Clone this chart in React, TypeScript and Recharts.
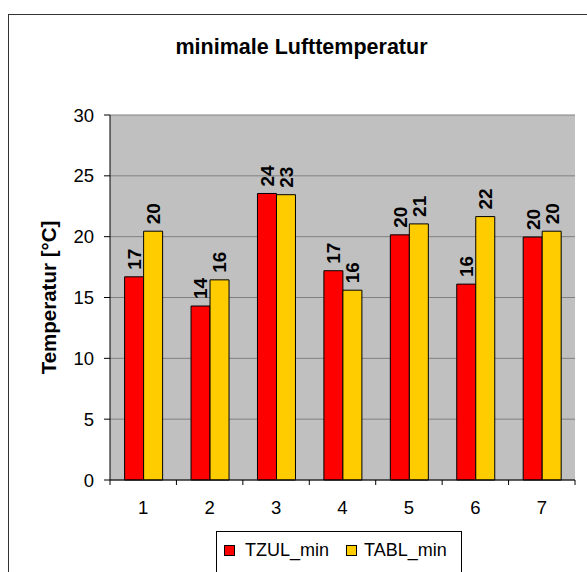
import React from 'react';
import { BarChart, Bar, XAxis, YAxis, CartesianGrid, LabelList } from 'recharts';

const categories = ['1', '2', '3', '4', '5', '6', '7'];
const tzulMin = [16.7, 14.3, 23.55, 17.2, 20.15, 16.1, 19.97];
const tablMin = [20.45, 16.45, 23.45, 15.6, 21.05, 21.65, 20.45];
const seriesNames = ['TZUL_min', 'TABL_min'];
const seriesKeys = ['tzul', 'tabl'];
const seriesColors = ['#FF0000', '#FFCC00'];
const yTicks = [0, 5, 10, 15, 20, 25, 30];
const title = 'minimale Lufttemperatur';
const yLabel = 'Temperatur [°C]';

const data = categories.map((c, i) => ({ cat: c, tzul: tzulMin[i], tabl: tablMin[i] }));

const FONT = '"Liberation Sans", Arial, sans-serif';
const X_TICK_SIZE = 5;
const X_TICK_MARGIN = 16;

const BarLabel = (props: any) => {
  const { x, y, width, value } = props;
  const cx = Number(x) + Number(width) / 2;
  const ty = Number(y) - 7;
  return (
    <text
      x={cx}
      y={ty}
      dy="0.36em"
      transform={`rotate(-90 ${cx} ${ty})`}
      textAnchor="start"
      fontSize={19}
      fontWeight="bold"
      fontFamily={FONT}
      fill="#000"
    >
      {Math.round(Number(value))}
    </text>
  );
};

const XTick = (props: any) => {
  const { x, y, payload, index, visibleTicksCount } = props;
  const half = payload && payload.offset ? payload.offset : 33.2;
  const axisY = y - X_TICK_SIZE - X_TICK_MARGIN;
  const isLast = index === (visibleTicksCount ?? categories.length) - 1;
  return (
    <g>
      <line x1={x - half} x2={x - half} y1={axisY} y2={axisY + X_TICK_SIZE} stroke="#000" />
      {isLast && <line x1={x + half} x2={x + half} y1={axisY} y2={axisY + X_TICK_SIZE} stroke="#000" />}
      <text x={x} y={y} dy="0.71em" textAnchor="middle" fontSize={18.5} fontFamily={FONT} fill="#000">
        {payload.value}
      </text>
    </g>
  );
};

const YAxisLabel = (props: any) => {
  const { viewBox } = props;
  const cy = viewBox.y + viewBox.height / 2;
  const lx = 55.7;
  return (
    <text
      x={lx}
      y={cy}
      transform={`rotate(-90 ${lx} ${cy})`}
      textAnchor="middle"
      fontSize={20.5}
      fontWeight="bold"
      fontFamily={FONT}
      fill="#000"
    >
      {yLabel}
    </text>
  );
};

export default function App() {
  return (
    <div
      style={{
        position: 'fixed',
        left: 0,
        top: 0,
        width: 587,
        height: 572,
        overflow: 'hidden',
        background: '#fff',
        fontFamily: FONT,
      }}
    >
      <div
        style={{
          position: 'absolute',
          left: 8,
          top: 14,
          width: 700,
          height: 700,
          border: '1px solid #333',
          boxSizing: 'border-box',
        }}
      />
      <div
        style={{
          position: 'absolute',
          left: 0,
          top: 34,
          width: 603,
          textAlign: 'center',
          fontSize: 21.5,
          fontWeight: 'bold',
          lineHeight: '26px',
          color: '#000',
        }}
      >
        {title}
      </div>
      <div style={{ position: 'absolute', left: 0, top: 0 }}>
        <BarChart
          width={587}
          height={572}
          data={data}
          margin={{ top: 115, right: 12, bottom: 62, left: 50 }}
          barCategoryGap="22%"
          barGap={0}
        >
          <CartesianGrid vertical={false} stroke="#808080" fill="#C0C0C0" fillOpacity={1} />
          <XAxis
            dataKey="cat"
            height={30}
            axisLine={{ stroke: '#000' }}
            tickLine={false}
            tickSize={X_TICK_SIZE}
            tickMargin={X_TICK_MARGIN}
            tick={<XTick />}
            interval={0}
          />
          <YAxis
            width={60}
            domain={[0, 30]}
            ticks={yTicks}
            axisLine={{ stroke: '#000' }}
            tickLine={{ stroke: '#000' }}
            tickSize={6}
            tickMargin={10}
            tick={{ fill: '#000', fontSize: 18.5, fontFamily: FONT }}
            label={<YAxisLabel />}
          />
          <YAxis
            yAxisId="right"
            orientation="right"
            width={0}
            domain={[0, 30]}
            tick={false}
            tickLine={false}
            axisLine={{ stroke: '#808080', strokeWidth: 2 }}
          />
          {seriesKeys.map((k, i) => (
            <Bar
              key={k}
              dataKey={k}
              name={seriesNames[i]}
              fill={seriesColors[i]}
              stroke="#000"
              strokeWidth={1}
              isAnimationActive={false}
            >
              <LabelList dataKey={k} content={<BarLabel />} />
            </Bar>
          ))}
        </BarChart>
      </div>
      <div
        style={{
          position: 'absolute',
          left: 216,
          top: 531,
          width: 246,
          height: 50,
          border: '1px solid #000',
          boxSizing: 'border-box',
          background: '#fff',
        }}
      >
        {seriesNames.map((n, i) => (
          <React.Fragment key={n}>
            <div
              style={{
                position: 'absolute',
                left: i === 0 ? 7 : 129,
                top: 13,
                width: 9,
                height: 9,
                background: seriesColors[i],
                border: '1px solid #000',
              }}
            />
            <div
              style={{
                position: 'absolute',
                left: i === 0 ? 28 : 147,
                top: 7,
                fontSize: 18,
                lineHeight: '22px',
                color: '#000',
                whiteSpace: 'nowrap',
              }}
            >
              {n}
            </div>
          </React.Fragment>
        ))}
      </div>
    </div>
  );
}
